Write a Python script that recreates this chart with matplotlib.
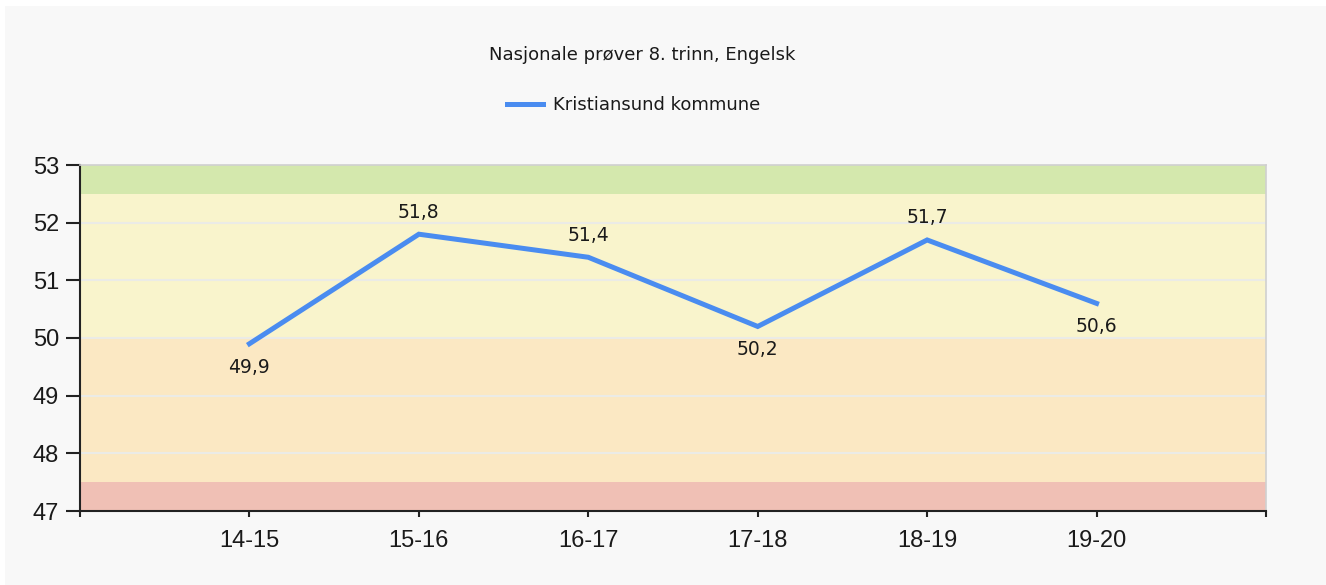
import matplotlib
matplotlib.use("Agg")
import matplotlib.pyplot as plt
from matplotlib.patches import Rectangle

plt.rcParams['font.family'] = ['DejaVu Sans']

# Data
seasons = ["14-15", "15-16", "16-17", "17-18", "18-19", "19-20"]
values = [49.9, 51.8, 51.4, 50.2, 51.7, 50.6]
label_below = [True, False, False, True, False, True]
series_name = "Kristiansund kommune"
title = "Nasjonale prøver 8. trinn, Engelsk"

# Background bands (lower, upper, colour)
band_lows = [47.0, 47.5, 50.0, 52.5]
band_highs = [47.5, 50.0, 52.5, 53.0]
band_colors = ["#f0c0b5", "#fbe8c3", "#f9f4cc", "#d4e8ad"]

yticks = [47, 48, 49, 50, 51, 52, 53]

fig = plt.figure(figsize=(13.26, 5.85), dpi=100)
fig.patch.set_facecolor("white")
fig.add_artist(Rectangle((5 / 1326, 0 / 585), 1321 / 1326, 579 / 585,
                         transform=fig.transFigure, facecolor="#f8f8f8",
                         edgecolor="none", zorder=-10))

ax = fig.add_axes([80 / 1326, 1 - 511 / 585, (1266 - 80) / 1326, (511 - 165) / 585])
ax.set_facecolor("#f9f4cc")

for lo, hi, c in zip(band_lows, band_highs, band_colors):
    ax.axhspan(lo, hi, facecolor=c, edgecolor="none", zorder=0)

for y in yticks[1:-1]:
    ax.axhline(y, color="#ebebe6", lw=1.5, zorder=1)

x = list(range(1, len(seasons) + 1))
line, = ax.plot(x, values, color="#4a8cf0", lw=3.6, solid_joinstyle="miter",
                zorder=3, label=series_name)

for xi, v, below in zip(x, values, label_below):
    txt = f"{v:.1f}".replace(".", ",")
    if below:
        ax.annotate(txt, (xi, v), xytext=(0, -10), textcoords="offset points",
                    ha="center", va="top", fontsize=13.5, color="#1a1a1a", zorder=4)
    else:
        ax.annotate(txt, (xi, v), xytext=(0, 9), textcoords="offset points",
                    ha="center", va="bottom", fontsize=13.5, color="#1a1a1a", zorder=4)

ax.set_xlim(0, len(seasons) + 1)
ax.set_ylim(47, 53)
ax.set_yticks(yticks)
ax.set_xticks(list(range(0, len(seasons) + 2)))
ax.set_xticklabels([""] + seasons + [""])
ax.tick_params(axis="both", direction="out", width=1.5, color="#222222",
               labelcolor="#1a1a1a")
ax.tick_params(axis="x", length=4, pad=10)
ax.tick_params(axis="y", length=10, pad=5)
for lbl in ax.get_xticklabels() + ax.get_yticklabels():
    lbl.set_fontfamily(["Liberation Sans", "DejaVu Sans"])
    lbl.set_fontsize(17)

for side in ("left", "bottom"):
    ax.spines[side].set_color("#222222")
    ax.spines[side].set_linewidth(1.5)
for side in ("top", "right"):
    ax.spines[side].set_color("#d0d0d0")
    ax.spines[side].set_linewidth(1.2)

fig.text(642 / 1326, 1 - 55 / 585, title, ha="center", va="center",
         fontsize=13, color="#1a1a1a")

fig.legend(handles=[line], loc="center", bbox_to_anchor=(634 / 1326, 1 - 105 / 585),
           frameon=False, fontsize=13, handlelength=2.0, handletextpad=0.55,
           labelcolor="#1a1a1a")

fig.savefig("out.png", dpi=100, facecolor=fig.get_facecolor())
